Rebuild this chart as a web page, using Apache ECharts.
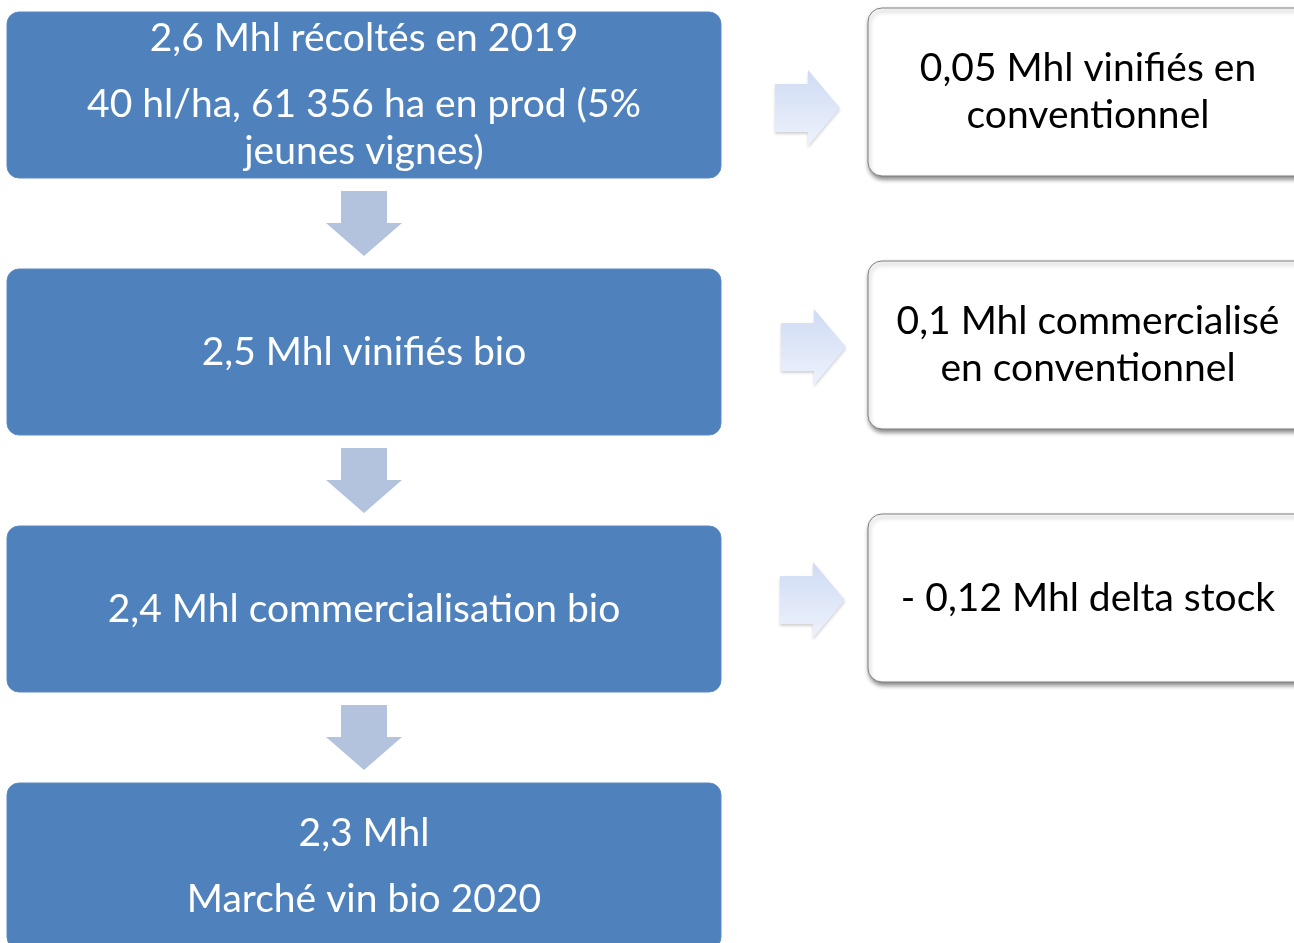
<!DOCTYPE html>
<html>
<head>
<meta charset="utf-8">
<script src="https://cdn.jsdelivr.net/npm/echarts@6/dist/echarts.min.js"></script>
<style>
  html, body { margin: 0; padding: 0; background: #fff; }
  #chart { width: 1294px; height: 943px; }
</style>
</head>
<body>
<div id="chart"></div>
<script>
// textes des étapes (colonne de gauche), un tableau par paragraphe
const leftTexts = [
  ["2,6 Mhl récoltés en 2019", "40 hl/ha, 61 356 ha en prod (5%\njeunes vignes)"],
  ["2,5 Mhl vinifiés bio"],
  ["2,4 Mhl commercialisation bio"],
  ["2,3 Mhl", "Marché vin bio 2020"]
];
// textes des encadrés de droite
const rightTexts = [
  "0,05 Mhl vinifiés en\nconventionnel",
  "0,1 Mhl commercialisé\nen conventionnel",
  "- 0,12 Mhl delta stock"
];

// mise en page (pixels)
const W = 1294, H = 943;
const FONT = "Lato, 'Open Sans', sans-serif";
const FS = 39;
const LINE = 47, PARA = 19;
const leftBox = { x0: 7, x1: 721, top: 12, h: 166, step: 257 };
const rightBox = { x0: 868, x1: 1312, top: 8, h: 168, step: 253 };
const rightTextX = 1088;
const rightArrowX = [775, 781, 780];
const rightArrowY = [108, 347, 600];

const chart = echarts.init(document.getElementById("chart"));

function linesOf(paras) {
  // renvoie [{text, dy}] avec l'écart entre paragraphes
  const out = [];
  let y = 0;
  paras.forEach((p, pi) => {
    p.split("\n").forEach((l, li) => {
      if (pi > 0 && li === 0) y += LINE + PARA;
      else if (li > 0) y += LINE;
      out.push({ text: l, dy: y });
    });
  });
  const total = y;
  out.forEach((o) => (o.dy -= total / 2));
  return out;
}

function leftItem(params, api) {
  const i = api.value(0);
  const p0 = api.coord([leftBox.x0, leftBox.top + i * leftBox.step]);
  const p1 = api.coord([leftBox.x1, leftBox.top + i * leftBox.step + leftBox.h]);
  const cx = (p0[0] + p1[0]) / 2;
  const cy = (p0[1] + p1[1]) / 2;
  const children = [{
    type: "rect",
    shape: { x: p0[0], y: p0[1], width: p1[0] - p0[0], height: p1[1] - p0[1], r: 12 },
    style: { fill: "#4F81BD", stroke: "#5b8ac3", lineWidth: 1 }
  }];
  linesOf(leftTexts[i]).forEach((l) => {
    children.push({
      type: "text", x: cx, y: cy + l.dy,
      style: { text: l.text, fill: "#ffffff", fontSize: FS, fontFamily: FONT, align: "center", verticalAlign: "middle" }
    });
  });
  // flèche vers le bas sous chaque étape sauf la dernière
  if (i < leftTexts.length - 1) {
    const b = p1[1];
    children.push({
      type: "polygon",
      shape: { points: [
        [cx - 23, b + 13], [cx + 23, b + 13], [cx + 23, b + 45], [cx + 38, b + 45],
        [cx, b + 78], [cx - 38, b + 45], [cx - 23, b + 45]
      ] },
      style: { fill: "#B3C3DE" }
    });
  }
  return { type: "group", children: children };
}

function rightItem(params, api) {
  const i = api.value(0);
  const p0 = api.coord([rightBox.x0, rightBox.top + i * rightBox.step]);
  const p1 = api.coord([rightBox.x1, rightBox.top + i * rightBox.step + rightBox.h]);
  const cx = api.coord([rightTextX, 0])[0];
  const cy = (p0[1] + p1[1]) / 2;
  const ax = api.coord([rightArrowX[i], rightArrowY[i]]);
  const children = [
    {
      type: "polygon",
      shape: { points: [
        [ax[0], ax[1] - 24], [ax[0] + 33, ax[1] - 24], [ax[0] + 33, ax[1] - 38], [ax[0] + 65, ax[1]],
        [ax[0] + 33, ax[1] + 38], [ax[0] + 33, ax[1] + 24], [ax[0], ax[1] + 24]
      ] },
      style: {
        fill: new echarts.graphic.LinearGradient(0, 0, 0, 1, [
          { offset: 0, color: "#cfdbf4" },
          { offset: 1, color: "#edf2fc" }
        ]),
        shadowColor: "rgba(0,0,0,0.18)", shadowBlur: 3, shadowOffsetY: 2
      }
    },
    {
      type: "rect",
      shape: { x: p0[0], y: p0[1], width: p1[0] - p0[0], height: p1[1] - p0[1], r: 14 },
      style: {
        fill: "#ffffff", stroke: "#7f7f7f", lineWidth: 1,
        shadowColor: "rgba(0,0,0,0.45)", shadowBlur: 4, shadowOffsetX: 1, shadowOffsetY: 3
      }
    }
  ];
  linesOf([rightTexts[i]]).forEach((l) => {
    children.push({
      type: "text", x: cx, y: cy + l.dy,
      style: { text: l.text, fill: "#000000", fontSize: FS, fontFamily: FONT, align: "center", verticalAlign: "middle" }
    });
  });
  return { type: "group", children: children };
}

chart.setOption({
  animation: false,
  backgroundColor: "#ffffff",
  grid: { left: 0, right: 0, top: 0, bottom: 0 },
  xAxis: { type: "value", min: 0, max: W, show: false },
  yAxis: { type: "value", min: 0, max: H, inverse: true, show: false },
  series: [
    {
      type: "custom",
      renderItem: leftItem,
      data: leftTexts.map((t, i) => [i]),
      clip: false
    },
    {
      type: "custom",
      renderItem: rightItem,
      data: rightTexts.map((t, i) => [i]),
      clip: false
    }
  ]
});
</script>
</body>
</html>
